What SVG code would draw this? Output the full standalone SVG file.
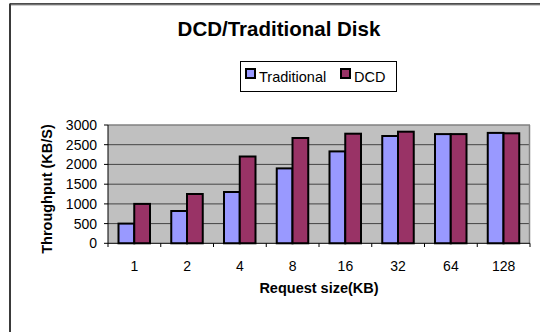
<svg xmlns="http://www.w3.org/2000/svg" width="540" height="332" viewBox="0 0 540 332">
  <style>
    text { font-family: "Liberation Sans", Arial, sans-serif; fill: #000; }
    .title { font-size: 20.5px; font-weight: bold; }
    .axt { font-size: 14.5px; font-weight: bold; }
    .lbl { font-size: 14px; }
    .grid { stroke: #444; stroke-width: 1; }
    .axis { stroke: #000; stroke-width: 1; }
    .trad { fill: #9999FF; stroke: #000; stroke-width: 2; }
    .dcd { fill: #993366; stroke: #000; stroke-width: 2; }
  </style>

  <!-- page background and chart frame -->
  <rect x="0" y="0" width="540" height="332" fill="#fff"/>
  <line x1="10" y1="4" x2="540" y2="4" stroke="#111" stroke-width="1.5"/>
  <line x1="10" y1="5" x2="540" y2="5" stroke="#999" stroke-width="1"/>
  <line x1="10" y1="3.5" x2="10" y2="332" stroke="#3a3a3a" stroke-width="2"/>

  <g id="title">
    <text class="title" x="279" y="36" text-anchor="middle">DCD/Traditional Disk</text>
  </g>

  <g id="legend">
    <rect x="240.5" y="61.5" width="156" height="30" fill="#fff" stroke="#000" stroke-width="1"/>
    <rect x="246" y="69" width="9" height="9" class="trad"/>
    <text class="lbl" x="259" y="81.5" style="font-size:14.5px">Traditional</text>
    <rect x="341" y="69" width="9" height="9" class="dcd"/>
    <text class="lbl" x="354" y="81.5" style="font-size:14.5px">DCD</text>
  </g>

  <!-- plot area: x 108..530, y 125..243.3 (0..3000) -->
  <g id="plot-area">
    <rect x="108" y="125" width="422" height="118.3" fill="#C0C0C0"/>
    <line class="grid" x1="108" y1="223.6" x2="530" y2="223.6"/>
    <line class="grid" x1="108" y1="203.9" x2="530" y2="203.9"/>
    <line class="grid" x1="108" y1="184.2" x2="530" y2="184.2"/>
    <line class="grid" x1="108" y1="164.4" x2="530" y2="164.4"/>
    <line class="grid" x1="108" y1="144.7" x2="530" y2="144.7"/>
    <line x1="108" y1="125" x2="530" y2="125" stroke="#808080" stroke-width="1.5"/>
    <line x1="529.5" y1="125" x2="529.5" y2="243.3" stroke="#808080" stroke-width="1.5"/>
  </g>

  <g id="series-traditional">
    <rect class="trad" x="118.5" y="223.6" width="15.75" height="19.7"/>
    <rect class="trad" x="171.25" y="211" width="15.75" height="32.3"/>
    <rect class="trad" x="224" y="192" width="15.75" height="51.3"/>
    <rect class="trad" x="276.75" y="168.4" width="15.75" height="74.9"/>
    <rect class="trad" x="329.5" y="151.4" width="15.75" height="91.9"/>
    <rect class="trad" x="382.25" y="136" width="15.75" height="107.3"/>
    <rect class="trad" x="435" y="134.1" width="15.75" height="109.2"/>
    <rect class="trad" x="487.75" y="132.9" width="15.75" height="110.4"/>
  </g>

  <g id="series-dcd">
    <rect class="dcd" x="134.25" y="203.9" width="15.75" height="39.4"/>
    <rect class="dcd" x="187" y="194" width="15.75" height="49.3"/>
    <rect class="dcd" x="239.75" y="156.5" width="15.75" height="86.8"/>
    <rect class="dcd" x="292.5" y="138" width="15.75" height="105.3"/>
    <rect class="dcd" x="345.25" y="133.7" width="15.75" height="109.6"/>
    <rect class="dcd" x="398" y="131.7" width="15.75" height="111.6"/>
    <rect class="dcd" x="450.75" y="134.1" width="15.75" height="109.2"/>
    <rect class="dcd" x="503.5" y="133.3" width="15.75" height="110"/>
  </g>

  <g id="value-axis">
    <line class="axis" x1="108" y1="125" x2="108" y2="243.3"/>
    <path class="axis" fill="none" d="M104 243.3H108M104 223.6H108M104 203.9H108M104 184.2H108M104 164.4H108M104 144.7H108M104 125H108"/>
    <g class="lbl" text-anchor="end">
      <text x="97" y="248.3">0</text>
      <text x="97" y="228.6">500</text>
      <text x="97" y="208.9">1000</text>
      <text x="97" y="189.2">1500</text>
      <text x="97" y="169.4">2000</text>
      <text x="97" y="149.7">2500</text>
      <text x="97" y="130">3000</text>
    </g>
    <text class="axt" transform="translate(51.5 189) rotate(-90)" text-anchor="middle">Throughput (KB/S)</text>
  </g>

  <g id="category-axis">
    <line class="axis" x1="108" y1="243.3" x2="530" y2="243.3"/>
    <path class="axis" fill="none" d="M108 243.3V247M160.75 243.3V247M213.5 243.3V247M266.25 243.3V247M319 243.3V247M371.75 243.3V247M424.5 243.3V247M477.25 243.3V247M530 243.3V247"/>
    <g class="lbl" text-anchor="middle">
      <text x="134.4" y="271">1</text>
      <text x="187.1" y="271">2</text>
      <text x="239.9" y="271">4</text>
      <text x="292.6" y="271">8</text>
      <text x="345.4" y="271">16</text>
      <text x="398.1" y="271">32</text>
      <text x="450.9" y="271">64</text>
      <text x="503.6" y="271">128</text>
    </g>
    <text class="axt" x="319" y="293" text-anchor="middle">Request size(KB)</text>
  </g>
</svg>
